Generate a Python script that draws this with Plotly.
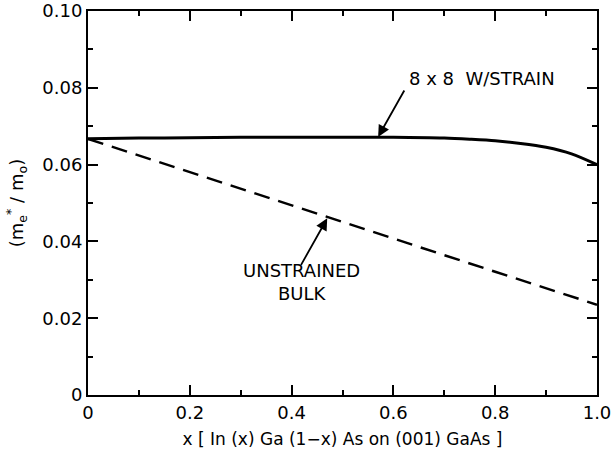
import plotly.graph_objects as go

# Data
x_strain = [0.0, 0.1, 0.2, 0.3, 0.4, 0.5, 0.6, 0.7, 0.75, 0.8, 0.85, 0.9, 0.95, 1.0]
m_strain = [0.0667, 0.0669, 0.0670, 0.0671, 0.0671, 0.0671, 0.0671, 0.0669, 0.0666, 0.0662, 0.0655, 0.0645, 0.0628, 0.0600]

x_bulk = [0.0, 0.2, 0.4, 0.6, 0.8, 1.0]
m_bulk = [0.0667, 0.0580, 0.0494, 0.0407, 0.0321, 0.0235]

x_ticks = [0, 0.2, 0.4, 0.6, 0.8, 1.0]
x_ticklabels = ["0", "0.2", "0.4", "0.6", "0.8", "1.0"]
y_ticks = [0, 0.02, 0.04, 0.06, 0.08, 0.10]
y_ticklabels = ["0", "0.02", "0.04", "0.06", "0.08", "0.10"]

FONT = "DejaVu Sans"

fig = go.Figure()
fig.add_trace(go.Scatter(x=x_strain, y=m_strain, mode="lines",
                         line=dict(color="black", width=3, shape="spline", smoothing=0.8),
                         showlegend=False, hoverinfo="skip"))
fig.add_trace(go.Scatter(x=x_bulk, y=m_bulk, mode="lines", line=dict(color="black", width=2.5, dash="16px,9px"),
                         showlegend=False, hoverinfo="skip"))

axis_common = dict(showline=True, linecolor="black", linewidth=2, mirror="ticks",
                   ticks="inside", ticklen=10, tickwidth=2, tickcolor="black",
                   showgrid=False, zeroline=False, automargin=False,
                   tickfont=dict(family=FONT, size=18, color="black"))

fig.update_xaxes(range=[0, 1.0], tickvals=x_ticks, ticktext=x_ticklabels,
                 minor=dict(dtick=0.1, ticks="inside", ticklen=5, tickwidth=2, tickcolor="black"),
                 title=dict(text="x [ In (x) Ga (1\u2212x) As on (001) GaAs ]",
                            font=dict(family=FONT, size=17, color="black"), standoff=12),
                 **axis_common)
fig.update_yaxes(range=[0, 0.10], tickvals=y_ticks, ticktext=y_ticklabels,
                 minor=dict(dtick=0.01, ticks="inside", ticklen=5, tickwidth=2, tickcolor="black"),
                 title=dict(text="(m<sub>e</sub><sup>*</sup> / m<sub>o</sub>)",
                            font=dict(family=FONT, size=18, color="black"), standoff=14),
                 **axis_common)

fig.add_annotation(x=0.57, y=0.0672, ax=27, ay=-48, axref="pixel", ayref="pixel",
                   text="", showarrow=True, arrowhead=2, arrowsize=1.3, arrowwidth=1.8, arrowcolor="black")
fig.add_annotation(x=0.47, y=0.0460, ax=-27, ay=48, axref="pixel", ayref="pixel",
                   text="", showarrow=True, arrowhead=2, arrowsize=1.3, arrowwidth=1.8, arrowcolor="black")

fig.add_annotation(x=0.775, y=0.0824, xref="x", yref="y", text="8 x 8  W/STRAIN", showarrow=False,
                   font=dict(family=FONT, size=18, color="black"))
fig.add_annotation(x=0.42, y=0.0295, xref="x", yref="y", text="UNSTRAINED<br>BULK", showarrow=False,
                   font=dict(family=FONT, size=18, color="black"))

fig.update_layout(width=613, height=461, margin=dict(l=88, r=16, t=11, b=66),
                  paper_bgcolor="white", plot_bgcolor="white", hovermode=False)

fig.write_html("out.html", config={"displayModeBar": False},
               post_script="document.body.style.margin='0';")
